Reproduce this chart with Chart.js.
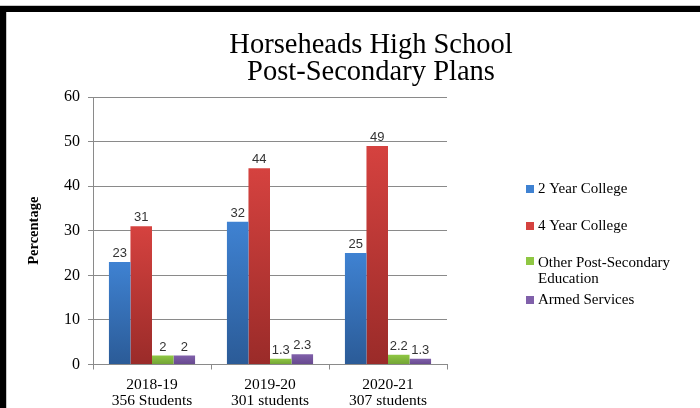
<!DOCTYPE html>
<html>
<head>
<meta charset="utf-8">
<script src="https://cdn.jsdelivr.net/npm/chart.js@4.4.1/dist/chart.umd.min.js"></script>
<style>
  html, body { margin: 0; padding: 0; background: #fff; }
  #wrap { width: 700px; height: 408px; position: relative; }
</style>
</head>
<body>
<div id="wrap"><canvas id="chart" width="700" height="408"></canvas></div>
<script>
// data
const titleLines = ['Horseheads High School', 'Post-Secondary Plans'];
const categories = [['2018-19', '356 Students'], ['2019-20', '301 students'], ['2020-21', '307 students']];
const seriesNames = ['2 Year College', '4 Year College', 'Other Post-Secondary Education', 'Armed Services'];
const twoYear = [23, 32, 25];
const fourYear = [31, 44, 49];
const otherPost = [2, 1.3, 2.2];
const armed = [2, 2.3, 1.3];
const yTicks = [0, 10, 20, 30, 40, 50, 60];

const serif = "'Liberation Serif', 'DejaVu Serif', serif";
const sans = "'Liberation Sans', Arial, sans-serif";

// top / bottom of the bar gradients
const palette = [
  ['#3f82d2', '#2b5b97'],
  ['#d5423f', '#9a2b29'],
  ['#8fc743', '#72a335'],
  ['#8060aa', '#66488e']
];

function barFill(idx) {
  return (ctx) => {
    const chart = ctx.chart;
    const y = chart.scales.y;
    if (!chart.chartArea || !y || ctx.raw === undefined) return palette[idx][0];
    const top = y.getPixelForValue(ctx.raw);
    const bottom = y.getPixelForValue(0);
    const g = chart.ctx.createLinearGradient(0, top, 0, bottom);
    g.addColorStop(0, palette[idx][0]);
    g.addColorStop(1, palette[idx][1]);
    return g;
  };
}

// frame, title, value labels and the side legend
const extras = {
  id: 'extras',
  beforeDraw(chart) {
    const c = chart.ctx;
    c.save();
    c.fillStyle = '#fff';
    c.fillRect(0, 0, 700, 408);
    c.fillStyle = '#c8c8c8';
    c.fillRect(0, 5, 700, 1);
    c.fillRect(6, 12, 1, 396);
    c.fillStyle = '#000';
    c.fillRect(0, 6, 700, 6);
    c.fillRect(0, 6, 6, 402);
    c.restore();
  },
  afterDraw(chart) {
    const c = chart.ctx;
    c.save();
    // title
    c.fillStyle = '#000';
    c.textAlign = 'center';
    c.textBaseline = 'alphabetic';
    c.font = '28.5px ' + serif;
    c.fillText(titleLines[0], 371, 53);
    c.fillText(titleLines[1], 371, 80);

    // values above the bars
    c.font = '13px ' + sans;
    c.fillStyle = '#333';
    c.textBaseline = 'bottom';
    chart.data.datasets.forEach((ds, i) => {
      const meta = chart.getDatasetMeta(i);
      meta.data.forEach((bar, j) => {
        c.fillText(String(ds.data[j]), bar.x, bar.y - 2);
      });
    });

    // legend
    const items = [
      { lines: ['2 Year College'], y: 189 },
      { lines: ['4 Year College'], y: 226 },
      { lines: ['Other Post-Secondary', 'Education'], y: 263 },
      { lines: ['Armed Services'], y: 300 }
    ];
    c.font = '15px ' + serif;
    c.textAlign = 'left';
    c.textBaseline = 'middle';
    items.forEach((it, i) => {
      c.fillStyle = palette[i][0];
      c.fillRect(526, it.y - 4 - (it.lines.length > 1 ? 2 : 0), 8, 8);
      c.fillStyle = '#000';
      it.lines.forEach((t, k) => c.fillText(t, 538, it.y + k * 16));
    });
    c.restore();
  }
};

const datasets = [twoYear, fourYear, otherPost, armed].map((vals, i) => ({
  label: seriesNames[i],
  data: vals,
  backgroundColor: barFill(i),
  borderWidth: 0,
  barPercentage: 1,
  categoryPercentage: 0.73
}));

new Chart(document.getElementById('chart'), {
  type: 'bar',
  data: { labels: categories, datasets },
  options: {
    responsive: false,
    animation: false,
    layout: { padding: { top: 97, left: 0, right: 253, bottom: 0 } },
    plugins: {
      legend: { display: false },
      title: { display: false },
      tooltip: { enabled: false }
    },
    scales: {
      x: {
        afterFit: (s) => { s.height = 43.5; },
        grid: { display: true, drawOnChartArea: false, drawTicks: true, tickLength: 5, color: '#8a8a8a', offset: true },
        border: { color: '#8a8a8a' },
        ticks: { color: '#000', font: { family: serif, size: 15.5, lineHeight: 1.05 }, padding: 7 }
      },
      y: {
        min: 0,
        max: 60,
        afterFit: (s) => { s.width = 93; },
        afterBuildTicks: (s) => { s.ticks = yTicks.map(v => ({ value: v })); },
        grid: { color: '#8a8a8a', tickLength: 5 },
        border: { color: '#8a8a8a' },
        ticks: { color: '#000', font: { family: serif, size: 16 }, padding: 8 },
        title: {
          display: true,
          text: 'Percentage',
          color: '#000',
          font: { family: serif, size: 14.5, weight: 'bold' },
          padding: { top: 26, bottom: 0 }
        }
      }
    }
  },
  plugins: [extras]
});
</script>
</body>
</html>
